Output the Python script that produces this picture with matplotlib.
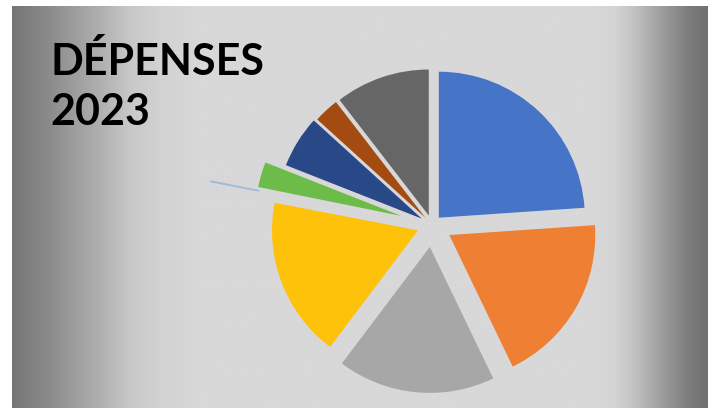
import numpy as np
import matplotlib
matplotlib.use("Agg")
import matplotlib.pyplot as plt

# ---- data (shares of expenses) ----
categories = ["Poste 1", "Poste 2", "Poste 3", "Poste 4", "Poste 5",
              "Poste 6", "Poste 7", "Poste 8", "Poste 9"]
values = [24.0, 19.0, 17.5, 17.8, 0.15, 2.8, 5.8, 2.8, 10.5]
colors = ["#4674c6", "#ee7f33", "#a7a7a7", "#fec20a", "#9dbdd6",
          "#6dbb48", "#284887", "#a34b10", "#666666"]
explode_px = [10, 20, 22, 15, 0, 32, 12, 10, 10]
title_lines = ["DÉPENSES", "2023"]

W, H = 714, 408
fig = plt.figure(figsize=(W / 100, H / 100), dpi=100)
fig.patch.set_facecolor("white")
ax = fig.add_axes([0, 0, 1, 1])

# background panel with horizontal grey gradient
gx = np.array([12, 50, 100, 130, 160, 200, 590, 615, 637, 660, 690, 708])
gv = np.array([118, 140, 176, 200, 210, 216, 216, 212, 192, 160, 124, 112]) / 255.0
xs = np.linspace(12, 708, 700)
row = np.interp(xs, gx, gv)
img = np.stack([row, row, np.clip(row + 0.004, 0, 1)], axis=-1)[None, :, :]
ax.imshow(img, extent=(12, 708, 0, H - 6), aspect="auto", zorder=0,
          interpolation="bilinear")

cx, cy = 432, H - 225
R = 146

main_colors = [c if i != 4 else "none" for i, c in enumerate(colors)]
ax.pie(values, colors=main_colors, explode=explode_px, radius=R,
       center=(cx, cy), startangle=90, counterclock=False,
       wedgeprops=dict(linewidth=0), frame=True)

# thin far-out sliver
sliver_colors = [c if i == 4 else "none" for i, c in enumerate(colors)]
ax.pie(values, colors=sliver_colors, radius=226, center=(cx, cy),
       startangle=90, counterclock=False,
       wedgeprops=dict(linewidth=0.6, width=50, edgecolor="none"),
       frame=True)

ax.set_xlim(0, W)
ax.set_ylim(0, H)
ax.set_aspect("equal", adjustable="box")
ax.axis("off")

fig.text(50 / W, (H - 75) / H, title_lines[0], fontsize=31, fontweight="bold",
         family=["Lato", "DejaVu Sans"], color="black", va="baseline", ha="left")
fig.text(50 / W, (H - 125) / H, title_lines[1], fontsize=31, fontweight="bold",
         family=["Lato", "DejaVu Sans"], color="black", va="baseline", ha="left")

fig.savefig("out.png", dpi=100, facecolor="white")
